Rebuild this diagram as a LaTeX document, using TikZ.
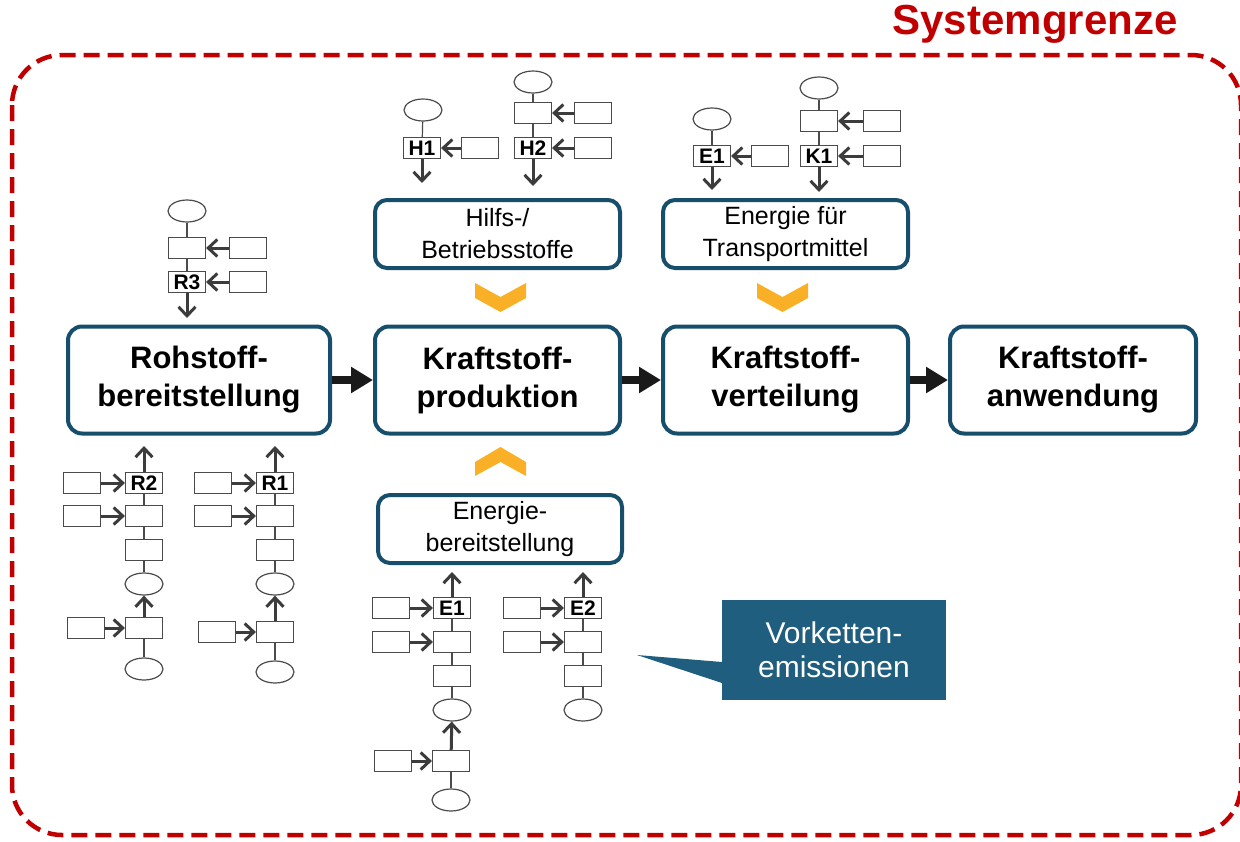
\documentclass[tikz,border=0pt]{standalone}
\usepackage{fontspec}
\setmainfont{Liberation Sans}
\usetikzlibrary{arrows.meta,shapes.geometric}
\definecolor{sysred}{RGB}{192,0,0}
\definecolor{mainblue}{RGB}{22,78,108}
\definecolor{boxgray}{RGB}{75,75,75}
\definecolor{arrgray}{RGB}{60,60,60}
\definecolor{chev}{RGB}{249,176,38}
\definecolor{callblue}{RGB}{31,94,126}
\definecolor{darkarrow}{RGB}{26,26,26}
\begin{document}
\begin{tikzpicture}[x=1pt,y=-1pt,
  sb/.style={draw=boxgray, line width=1.2pt, minimum width=37pt, minimum height=21pt, inner sep=0pt, fill=white, font=\bfseries\fontsize{21}{21}\selectfont},
  el/.style={draw=boxgray, line width=1.2pt, ellipse, minimum width=38pt, minimum height=22pt, inner sep=0pt, fill=white},
  conn/.style={draw=boxgray, line width=1.2pt},
  flow/.style={draw=arrgray, line width=3pt, -{Straight Barb[length=9pt,width=17pt]}},
  mainbox/.style={draw=mainblue, line width=4pt, rounded corners=14pt, minimum height=107pt, align=center, font=\bfseries\fontsize{31}{38}\selectfont, fill=white},
  subbox/.style={draw=mainblue, line width=4pt, rounded corners=12pt, minimum height=68pt, minimum width=245pt, align=center, font=\fontsize{25}{32}\selectfont, fill=white},
  bigarrow/.style={draw=darkarrow, line width=8pt, -{Triangle[length=22pt,width=25pt]}},
  chevron/.style={fill=chev}
]
\useasboundingbox (0,0) rectangle (1240,841);

% system boundary
\draw[sysred, line width=4.5pt, dash pattern=on 16pt off 8pt, rounded corners=50pt] (12,55) rectangle (1241,835);
\node[text=sysred, font=\bfseries\fontsize{42}{42}\selectfont] (sysg) at (1035,24) {Systemgrenze};

% main boxes
\node[mainbox, minimum width=262pt] (roh) at (199,380) {Rohstoff-\\bereitstellung};
\node[mainbox, minimum width=245pt] (prod) at (497.5,380) {Kraftstoff-\\produktion};
\node[mainbox, minimum width=245pt] (vert) at (785.5,380) {Kraftstoff-\\verteilung};
\node[mainbox, minimum width=246pt] (anw) at (1073,380) {Kraftstoff-\\anwendung};
\draw[bigarrow] (roh.east) -- (prod.west);
\draw[bigarrow] (prod.east) -- (vert.west);
\draw[bigarrow] (vert.east) -- (anw.west);

% sub boxes
\node[subbox] (hilfs) at (497.5,234) {Hilfs-/\\Betriebsstoffe};
\node[subbox] (etrans) at (785.5,234) {Energie für\\Transportmittel};
\node[subbox, minimum width=244pt] (ebereit) at (500,529) {Energie-\\bereitstellung};

% chevrons
\fill[chevron] (475,283) -- (500.5,297) -- (526,283) -- (526,298) -- (500.5,312) -- (475,298) -- cycle;
\fill[chevron] (757,283) -- (782.5,297) -- (808,283) -- (808,298) -- (782.5,312) -- (757,298) -- cycle;
\fill[chevron] (500.5,447) -- (526,462) -- (526,476) -- (500.5,462) -- (475,476) -- (475,462) -- cycle;

% H1 chain
\node[el] (eh1) at (423,110) {};
\node[sb] (h1) at (422,148) {H1};
\node[sb] (inh1) at (480,148) {};
\coordinate (h1out) at (422,183);
\draw[conn] (eh1) -- (h1);
\draw[flow] (inh1) -- (h1);
\draw[flow] (h1) -- (h1out);

% H2 chain
\node[el] (eh2) at (533,82) {};
\node[sb] (bh2) at (533,113) {};
\node[sb] (h2) at (533,148) {H2};
\node[sb] (inh2a) at (593,113) {};
\node[sb] (inh2b) at (593,148) {};
\coordinate (h2out) at (533,186);
\draw[conn] (eh2) -- (bh2);
\draw[conn] (bh2) -- (h2);
\draw[flow] (inh2a) -- (bh2);
\draw[flow] (inh2b) -- (h2);
\draw[flow] (h2) -- (h2out);

% E1 top chain
\node[el] (ee1t) at (712,119) {};
\node[sb] (e1t) at (712,156) {E1};
\node[sb] (ine1t) at (770,156) {};
\coordinate (e1tout) at (712,190);
\draw[conn] (ee1t) -- (e1t);
\draw[flow] (ine1t) -- (e1t);
\draw[flow] (e1t) -- (e1tout);

% K1 chain
\node[el] (ek1) at (819,88) {};
\node[sb] (bk1) at (819,121) {};
\node[sb] (k1) at (819,156) {K1};
\node[sb] (ink1a) at (882,121) {};
\node[sb] (ink1b) at (882,156) {};
\coordinate (k1out) at (819,192);
\draw[conn] (ek1) -- (bk1);
\draw[conn] (bk1) -- (k1);
\draw[flow] (ink1a) -- (bk1);
\draw[flow] (ink1b) -- (k1);
\draw[flow] (k1) -- (k1out);

% R3 chain
\node[el] (er3) at (187,211) {};
\node[sb] (br3) at (187,248) {};
\node[sb] (r3) at (187,282) {R3};
\node[sb] (inr3a) at (248,248) {};
\node[sb] (inr3b) at (248,282) {};
\coordinate (r3out) at (187,318);
\draw[conn] (er3) -- (br3);
\draw[conn] (br3) -- (r3);
\draw[flow] (inr3a) -- (br3);
\draw[flow] (inr3b) -- (r3);
\draw[flow] (r3) -- (r3out);

% R2 chain
\node[sb] (r2) at (144,483) {R2};
\node[sb] (inr2a) at (82,483) {};
\node[sb] (br2a) at (144,516) {};
\node[sb] (inr2b) at (82,516) {};
\node[sb] (br2b) at (144,550) {};
\node[el] (er2a) at (144,584) {};
\node[sb] (br2c) at (144,628) {};
\node[sb] (inr2c) at (86,628) {};
\node[el] (er2b) at (144,669) {};
\coordinate (r2out) at (144,446);
\draw[flow] (r2) -- (r2out);
\draw[flow] (inr2a) -- (r2);
\draw[flow] (inr2b) -- (br2a);
\draw[conn] (r2) -- (br2a);
\draw[conn] (br2a) -- (br2b);
\draw[conn] (br2b) -- (er2a);
\draw[flow] (br2c) -- (er2a);
\draw[flow] (inr2c) -- (br2c);
\draw[conn] (br2c) -- (er2b);

% R1 chain
\node[sb] (r1) at (275,483) {R1};
\node[sb] (inr1a) at (213,483) {};
\node[sb] (br1a) at (275,516) {};
\node[sb] (inr1b) at (213,516) {};
\node[sb] (br1b) at (275,550) {};
\node[el] (er1a) at (275,584) {};
\node[sb] (br1c) at (275,632) {};
\node[sb] (inr1c) at (217,632) {};
\node[el] (er1b) at (275,672) {};
\coordinate (r1out) at (275,446);
\draw[flow] (r1) -- (r1out);
\draw[flow] (inr1a) -- (r1);
\draw[flow] (inr1b) -- (br1a);
\draw[conn] (r1) -- (br1a);
\draw[conn] (br1a) -- (br1b);
\draw[conn] (br1b) -- (er1a);
\draw[flow] (br1c) -- (er1a);
\draw[flow] (inr1c) -- (br1c);
\draw[conn] (br1c) -- (er1b);

% E1 bottom chain
\node[sb] (e1b) at (452,608) {E1};
\node[sb] (ine1a) at (391,608) {};
\node[sb] (be1a) at (452,642) {};
\node[sb] (ine1b) at (391,642) {};
\node[sb] (be1b) at (452,676) {};
\node[el] (ee1a) at (452,710) {};
\node[sb] (be1c) at (451,761) {};
\node[sb] (ine1c) at (393,761) {};
\node[el] (ee1b) at (451,800) {};
\coordinate (e1bout) at (452,572);
\draw[flow] (e1b) -- (e1bout);
\draw[flow] (ine1a) -- (e1b);
\draw[flow] (ine1b) -- (be1a);
\draw[conn] (e1b) -- (be1a);
\draw[conn] (be1a) -- (be1b);
\draw[conn] (be1b) -- (ee1a);
\draw[flow] (be1c) -- (ee1a);
\draw[flow] (ine1c) -- (be1c);
\draw[conn] (be1c) -- (ee1b);

% E2 chain
\node[sb] (e2) at (583,608) {E2};
\node[sb] (ine2a) at (522,608) {};
\node[sb] (be2a) at (583,642) {};
\node[sb] (ine2b) at (522,642) {};
\node[sb] (be2b) at (583,676) {};
\node[el] (ee2) at (583,710) {};
\coordinate (e2out) at (583,572);
\draw[flow] (e2) -- (e2out);
\draw[flow] (ine2a) -- (e2);
\draw[flow] (ine2b) -- (be2a);
\draw[conn] (e2) -- (be2a);
\draw[conn] (be2a) -- (be2b);
\draw[conn] (be2b) -- (ee2);

% callout
\node[fill=callblue, minimum width=224pt, minimum height=100pt, inner sep=0pt, text=white, align=center, font=\fontsize{30}{34}\selectfont] (callout) at (834,650) {Vorketten-\\emissionen};
\coordinate (calltip) at (637,655);
\fill[callblue] (722,662) -- (calltip) -- (722,683) -- cycle;
\end{tikzpicture}
\end{document}
